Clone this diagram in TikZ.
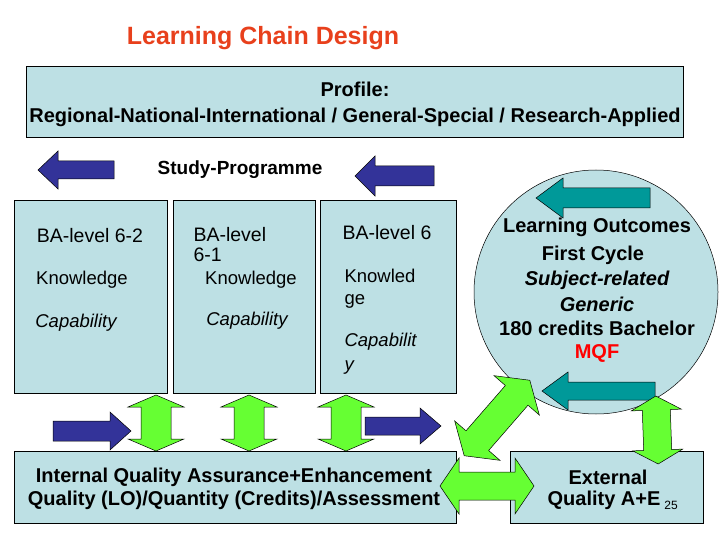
\documentclass[tikz,border=0pt]{standalone}
\usepackage{fontspec}
\setmainfont{Liberation Sans}
\begin{document}
\begin{tikzpicture}[x=1pt,y=-1pt,
  box/.style={draw=black,fill=boxc,line width=0.8pt},
  bl/.style={font=\bfseries\fontsize{20}{22}\selectfont},
  tx/.style={font=\fontsize{18.5}{21}\selectfont},
  it/.style={font=\itshape\fontsize{18.5}{21}\selectfont},
  cb/.style={font=\bfseries\fontsize{20}{22}\selectfont},
  grn/.style={draw=black,fill=grc,line width=0.5pt},
  blu/.style={draw=black,fill=bluc,line width=0.5pt},
  tea/.style={draw=black,fill=teac,line width=0.5pt}]
\definecolor{boxc}{RGB}{189,224,228}
\definecolor{grc}{RGB}{102,255,51}
\definecolor{bluc}{RGB}{51,51,153}
\definecolor{teac}{RGB}{0,153,153}
\definecolor{titc}{RGB}{232,64,28}
\useasboundingbox (0,0) rectangle (720,540);
\newcommand\dbl[7]{\begin{scope}[shift={(#1,#2)},rotate=#3]
 \path[grn] (-#4,0)--(-#4+#7,#6)--(-#4+#7,#5)--(#4-#7,#5)--(#4-#7,#6)--(#4,0)--(#4-#7,-#6)--(#4-#7,-#5)--(-#4+#7,-#5)--(-#4+#7,-#6)--cycle;\end{scope}}
% sarr{style}{tipx}{tailx}{headbasex}{cy}{halfshaft}{halfhead}
\newcommand\sarr[7]{\path[#1] (#2,#5)--(#4,#5-#7)--(#4,#5-#6)--(#3,#5-#6)--(#3,#5+#6)--(#4,#5+#6)--(#4,#5+#7)--cycle;}

\node[text=titc,font=\bfseries\fontsize{25}{27}\selectfont] (title) at (263,38) {Learning Chain Design};
\node[box,minimum width=657,minimum height=71,anchor=north west] (prof) at (26,66) {};
\node[bl] (pt1) at (355,89) {Profile:};
\node[bl] (pt2) at (355,117) {Regional-National-International / General-Special / Research-Applied};

\sarr{blu}{38}{114}{58}{170}{9}{19}
\sarr{blu}{355}{434}{375}{176}{10}{20}
\node[font=\bfseries\fontsize{19}{21}\selectfont] (sp) at (240,170) {Study-Programme};

\node[box,minimum width=153,minimum height=193,anchor=north west] (b1) at (14,200) {};
\node[box,minimum width=142,minimum height=193,anchor=north west] (b2) at (173,200) {};
\node[box,minimum width=136,minimum height=193,anchor=north west] (b3) at (320,200) {};
\node[font=\fontsize{19.5}{21}\selectfont] (t11) at (90,236) {BA-level 6-2};
\node[tx] (t12) at (82,280) {Knowledge};
\node[it] (t13) at (76,323) {Capability};
\node[font=\fontsize{19.5}{20}\selectfont,align=left,anchor=north west] (t21) at (190,224) {BA-level\\6-1};
\node[tx] (t22) at (251,280) {Knowledge};
\node[it] (t23) at (247,321) {Capability};
\node[font=\fontsize{19.5}{21}\selectfont] (t31) at (387,233) {BA-level 6};
\node[tx,align=left,anchor=north west,font=\fontsize{18.5}{22}\selectfont] (t32) at (341,266) {Knowled\\ge};
\node[it,align=left,anchor=north west,font=\itshape\fontsize{18.5}{24}\selectfont] (t33) at (341,330) {Capabilit\\y};

\node[circle,draw=black,fill=boxc,minimum size=244,line width=0.5pt] (circ) at (596,292) {};
\sarr{tea}{536}{650}{563}{198}{10}{20}
\sarr{tea}{542}{655}{568}{391}{9}{19}
\node[cb] (c1) at (597,227) {Learning Outcomes};
\node[cb] (c2) at (593,255) {First Cycle};
\node[cb,font=\bfseries\itshape\fontsize{20}{22}\selectfont] (c3) at (597,280) {Subject-related};
\node[cb,font=\bfseries\itshape\fontsize{20}{22}\selectfont] (c4) at (597,304) {Generic};
\node[cb] (c5) at (597,328) {180 credits Bachelor};
\node[cb,text=red] (c6) at (597,353) {MQF};

\sarr{blu}{131}{53}{110}{431}{10}{19}
\sarr{blu}{441}{365}{420}{426}{9}{18}

\node[box,minimum width=442,minimum height=72,anchor=north west] (ib) at (14,451) {};
\node[box,minimum width=193,minimum height=72,anchor=north west] (eb) at (510,451) {};

\dbl{156}{423}{90}{28}{15}{28}{12}
\dbl{249}{423}{90}{28}{15}{28}{12}
\dbl{346}{423}{90}{28}{15}{28}{12}
\dbl{497}{418}{-131}{50}{15}{30}{20}
\dbl{657}{430}{92}{34}{14}{25}{14}
\dbl{487}{486}{0}{47}{14}{28}{19}

\node[cb] (i1) at (234,477) {Internal Quality Assurance+Enhancement};
\node[cb] (i2) at (234,500) {Quality (LO)/Quantity (Credits)/Assessment};
\node[cb] (e1) at (608,477) {External};
\node[cb] (e2) at (604,500) {Quality A+E};
\node[font=\fontsize{12}{14}\selectfont] (pg) at (671,505) {25};
\end{tikzpicture}
\end{document}
